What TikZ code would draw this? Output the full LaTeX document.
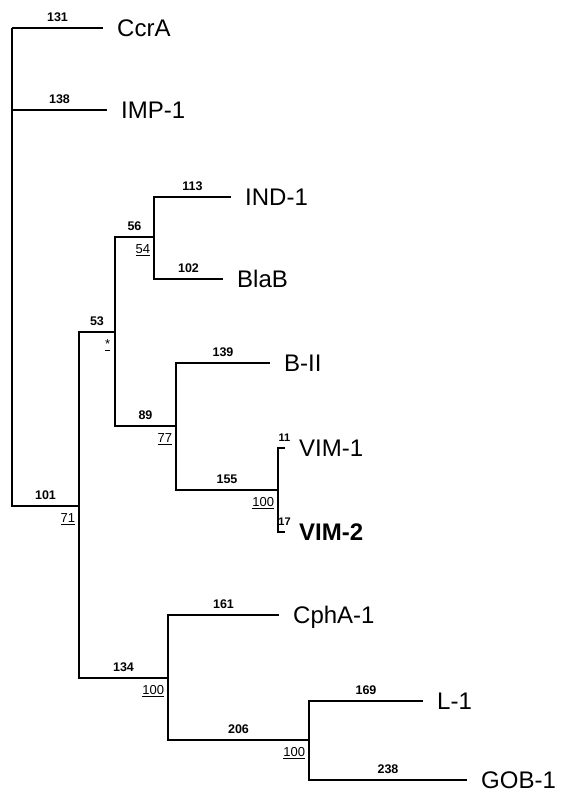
\documentclass[tikz,border=0pt]{standalone}
\usepackage{fontspec}
\setmainfont{Liberation Sans}
\tikzset{
  taxon/.style={anchor=west,inner sep=0pt,text height=17pt,text depth=0pt,
    font=\fontsize{24}{24}\selectfont},
  blen/.style={pos=0.75,above=5.5pt,inner sep=0pt,font=\bfseries\fontsize{12.5}{12.5}\selectfont},
  tiny/.style={blen,xshift=3pt,font=\bfseries\fontsize{11}{11}\selectfont},
  boot/.style={anchor=north east,inner sep=0pt,xshift=-3pt,yshift=-7pt,font=\fontsize{13}{13}\selectfont},
  branch/.style={line width=1.8pt}
}
\begin{document}
\begin{tikzpicture}[x=1pt,y=-1pt]
\useasboundingbox (0,0) rectangle (560,792);
% inner nodes of the tree
\coordinate (root) at (12,28);
\coordinate (n101) at (79,506);
\coordinate (n53) at (115,332);
\coordinate (n56) at (154,237);
\coordinate (n89) at (176,426);
\coordinate (n155) at (278,490);
\coordinate (n134) at (168,678);
\coordinate (n206) at (309,740);
% taxa (text starts 14pt right of the branch tip)
\node[taxon] (ccra) at (117,28) {CcrA};
\node[taxon] (imp) at (121,110) {IMP-1};
\node[taxon] (ind) at (245,197) {IND-1};
\node[taxon] (blab) at (237,279) {BlaB};
\node[taxon] (bii) at (284,363) {B-II};
\node[taxon] (vima) at (299,448) {VIM-1};
\node[taxon] (vimb) at (299,532) {\textbf{VIM-2}};
\node[taxon] (cpha) at (293,615) {CphA-1};
\node[taxon] (lone) at (437,701) {L-1};
\node[taxon] (gob) at (481,780) {GOB-1};
% branches
\draw[branch] (root) |- node[blen] {131} ([xshift=-14pt]ccra.west);
\draw[branch] (root) |- node[blen] {138} ([xshift=-14pt]imp.west);
\draw[branch] (root) |- node[blen] {101} (n101) node[boot] {\underline{71}};
\draw[branch] (n101) |- node[blen] {53} (n53) node[boot,xshift=-1pt] {\underline{*}};
\draw[branch] (n101) |- node[blen] {134} (n134) node[boot] {\underline{100}};
\draw[branch] (n53) |- node[blen] {56} (n56) node[boot] {\underline{54}};
\draw[branch] (n53) |- node[blen] {89} (n89) node[boot] {\underline{77}};
\draw[branch] (n56) |- node[blen] {113} ([xshift=-14pt]ind.west);
\draw[branch] (n56) |- node[blen] {102} ([xshift=-14pt]blab.west);
\draw[branch] (n89) |- node[blen] {139} ([xshift=-14pt]bii.west);
\draw[branch] (n89) |- node[blen] {155} (n155) node[boot] {\underline{100}};
\draw[branch] (n155) |- node[tiny] {11} ([xshift=-14pt]vima.west);
\draw[branch] (n155) |- node[tiny] {17} ([xshift=-14pt]vimb.west);
\draw[branch] (n134) |- node[blen] {161} ([xshift=-14pt]cpha.west);
\draw[branch] (n134) |- node[blen] {206} (n206) node[boot] {\underline{100}};
\draw[branch] (n206) |- node[blen] {169} ([xshift=-14pt]lone.west);
\draw[branch] (n206) |- node[blen] {238} ([xshift=-14pt]gob.west);
\end{tikzpicture}
\end{document}
